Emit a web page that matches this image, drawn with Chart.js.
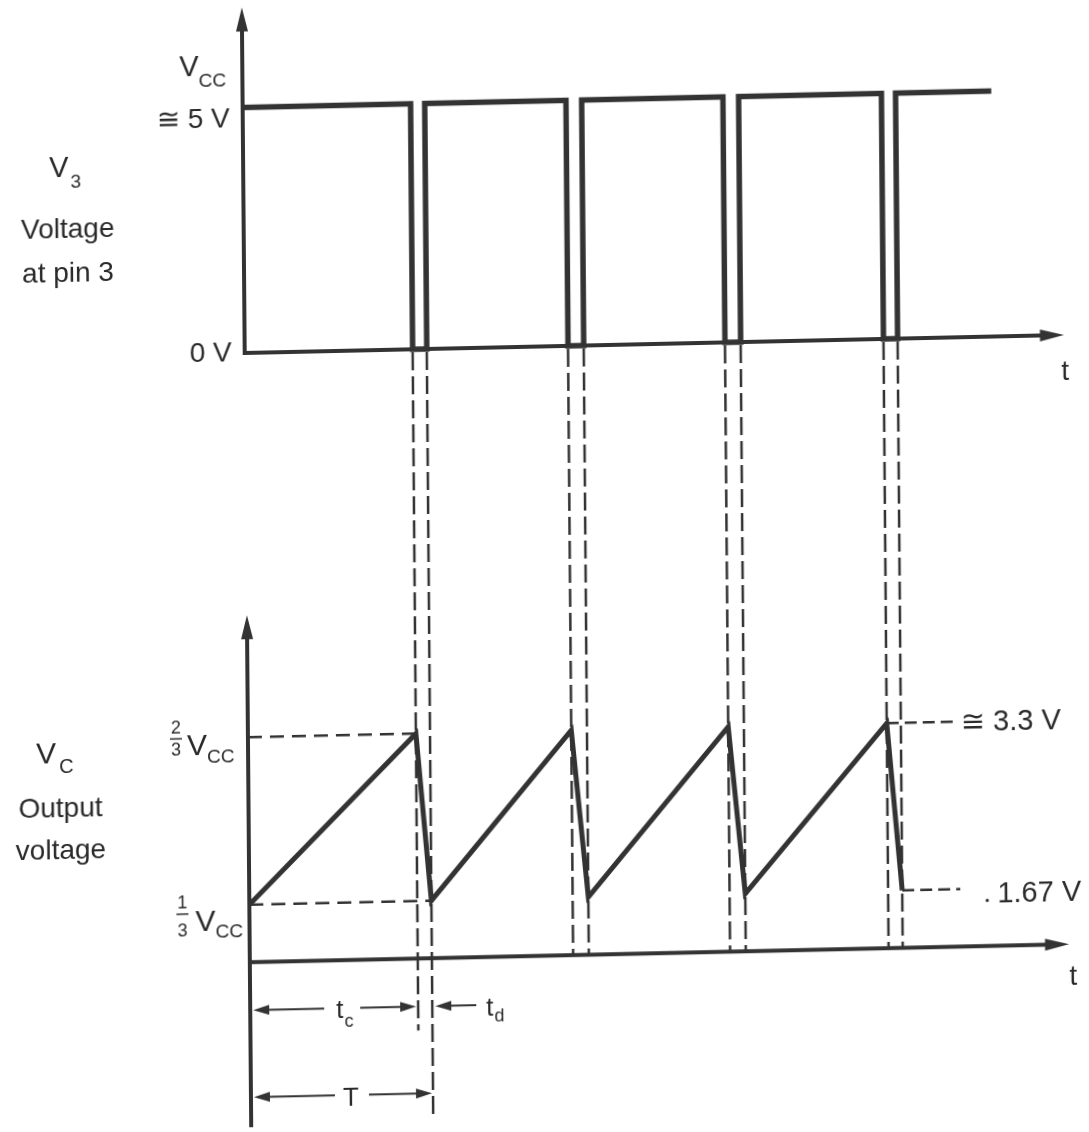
<!DOCTYPE html>
<html>
<head>
<meta charset="utf-8">
<title>555 astable timing waveforms</title>
<script src="https://cdn.jsdelivr.net/npm/chart.js@4.4.1/dist/chart.umd.min.js"></script>
<style>
  html, body { margin: 0; padding: 0; background: #fff; }
  #wrap { width: 1089px; height: 1132px; position: relative; overflow: hidden; background: #fff; }
  /* the printed figure sits slightly askew on the page */
  #c { display: block; transform-origin: 246px 500px; transform: matrix(1, -0.022, 0.0084, 1, 0, 0); }
</style>
</head>
<body>
<div id="wrap"><canvas id="c" width="1089" height="1132"></canvas></div>
<script>
// ---- 555 astable: pin-3 output and capacitor voltage ----
// time is in units of roughly one period
const OUT_HIGH = 5;                                   // V, pin 3 high (about Vcc)
const OUT_LOW = 0;                                    // V
const VC_UPPER = 3.33;                                // V, 2/3 Vcc threshold
const VC_LOWER = 1.67;                                // V, 1/3 Vcc trigger
const DISCHARGE_START = [1.07, 2.06, 3.06, 4.07];     // output falls, capacitor begins to discharge
const DISCHARGE_END   = [1.16, 2.16, 3.16, 4.16];     // output rises, charging resumes
const TRACE_END = 4.77;                               // last instant drawn for pin 3
const AXIS_END = 5.22;                                // arrow tip of both time axes
const VC_AXIS = 1.10;                                 // level where the Vc time axis is drawn
const UPPER_MARK_END = 4.50;                          // end of the "3.3 V" leader
const LOWER_MARK_END = 4.53;                          // end of the "1.67 V" leader

const TOP_TICK_LABELS = ['\u2245 5 V', '0 V'];
const VC_LEVEL_LABELS = ['\u2245 3.3 V', '1.67 V'];
const FRACTIONS = [['2', '3'], ['1', '3']];

const INK = '#333333';
const TEXT_INK = '#2a2a2a';
const FONT = '"Liberation Sans", Arial, Helvetica, sans-serif';

// pin-3 square wave
const pin3 = [{ x: 0, y: OUT_HIGH }];
DISCHARGE_START.forEach((t, i) => {
  pin3.push({ x: t, y: OUT_HIGH }, { x: t, y: OUT_LOW },
            { x: DISCHARGE_END[i], y: OUT_LOW }, { x: DISCHARGE_END[i], y: OUT_HIGH });
});
pin3.push({ x: TRACE_END, y: OUT_HIGH });

// capacitor sawtooth
const vc = [{ x: 0, y: VC_LOWER }];
DISCHARGE_START.forEach((t, i) => {
  vc.push({ x: t, y: VC_UPPER }, { x: DISCHARGE_END[i], y: VC_LOWER });
});

function seg(ctx, x1, y1, x2, y2) {
  ctx.beginPath(); ctx.moveTo(x1, y1); ctx.lineTo(x2, y2); ctx.stroke();
}
function head(ctx, tx, ty, dx, dy, len, half) {
  const bx = tx - dx * len, by = ty - dy * len;
  ctx.beginPath();
  ctx.moveTo(tx, ty);
  ctx.lineTo(bx - dy * half, by + dx * half);
  ctx.lineTo(bx + dy * half, by - dx * half);
  ctx.closePath(); ctx.fill();
}
function text(ctx, s, x, y, size, align) {
  ctx.font = size + 'px ' + FONT;
  ctx.textAlign = align || 'left';
  ctx.textBaseline = 'alphabetic';
  ctx.fillText(s, x, y);
}
// symbol with a lowered subscript
function subbed(ctx, main, sub, x, y, size, subSize, drop, gap) {
  ctx.font = size + 'px ' + FONT;
  ctx.textAlign = 'left'; ctx.textBaseline = 'alphabetic';
  ctx.fillText(main, x, y);
  const w = ctx.measureText(main).width;
  ctx.font = subSize + 'px ' + FONT;
  ctx.fillText(sub, x + w + (gap || 0), y + drop);
}
function fraction(ctx, num, den, cx, yNum, yBar, yDen) {
  ctx.font = '18px ' + FONT;
  ctx.textAlign = 'center'; ctx.textBaseline = 'alphabetic';
  ctx.fillText(num, cx, yNum);
  ctx.fillText(den, cx, yDen);
  ctx.lineWidth = 1.5; ctx.setLineDash([]);
  seg(ctx, cx - 6, yBar, cx + 6, yBar);
}

const frame = {
  id: 'frame',
  beforeDatasetsDraw(chart) {
    const { ctx, scales: { x, yTop, yBot } } = chart;
    const x0 = x.getPixelForValue(0);
    const y0 = yTop.getPixelForValue(OUT_LOW);
    const yB = yBot.getPixelForValue(VC_AXIS);
    ctx.save();
    ctx.strokeStyle = INK; ctx.fillStyle = INK; ctx.lineCap = 'butt';

    // projections from the pin-3 edges down to the Vc axis
    ctx.lineWidth = 2.5; ctx.setLineDash([18, 6]);
    DISCHARGE_START.forEach((t, i) => {
      const xa = x.getPixelForValue(t), xb = x.getPixelForValue(DISCHARGE_END[i]);
      seg(ctx, xa, y0 + 3, xa, i === 0 ? yB + 72 : yB);
      seg(ctx, xb, y0 + 3, xb, i === 0 ? yB + 160 : yB);
    });
    ctx.setLineDash([]);

    // axes
    const xEnd = x.getPixelForValue(AXIS_END);
    const tipTop = yTop.getPixelForValue(OUT_HIGH) - 100;
    const tipBot = yBot.getPixelForValue(VC_UPPER) - 122;
    ctx.lineWidth = 4;
    seg(ctx, x0, y0 + 2, x0, tipTop + 18);
    head(ctx, x0, tipTop, 0, -1, 24, 6);
    seg(ctx, x0 - 2, y0, xEnd - 18, y0);
    head(ctx, xEnd, y0, 1, 0, 24, 6);
    seg(ctx, x0, yB + 165, x0, tipBot + 18);
    head(ctx, x0, tipBot, 0, -1, 24, 6);
    seg(ctx, x0 - 2, yB, xEnd - 18, yB);
    head(ctx, xEnd, yB, 1, 0, 24, 6);
    ctx.restore();
  },
  afterDraw(chart) {
    const { ctx, scales: { x, yTop, yBot } } = chart;
    const x0 = x.getPixelForValue(0);
    const y5 = yTop.getPixelForValue(OUT_HIGH);
    const y0 = yTop.getPixelForValue(OUT_LOW);
    const yU = yBot.getPixelForValue(VC_UPPER);
    const yL = yBot.getPixelForValue(VC_LOWER);
    const yB = yBot.getPixelForValue(VC_AXIS);
    const xEnd = x.getPixelForValue(AXIS_END);
    ctx.save();
    ctx.fillStyle = TEXT_INK; ctx.strokeStyle = TEXT_INK;

    // left-hand captions
    subbed(ctx, 'V', '3', 52, 173, 29, 19, 11, 2);
    text(ctx, 'Voltage', 70, 234, 28, 'center');
    text(ctx, 'at pin 3', 70, 278, 28, 'center');
    subbed(ctx, 'V', 'C', 34, 759, 30, 20, 10, 3);
    text(ctx, 'Output', 58, 813, 28, 'center');
    text(ctx, 'voltage', 58, 855, 28, 'center');

    // pin-3 levels
    subbed(ctx, 'V', 'CC', x0 - 63, y5 - 32, 29, 19, 11, 0);
    text(ctx, TOP_TICK_LABELS[0], x0 - 13, y5 + 20, 28, 'right');
    text(ctx, TOP_TICK_LABELS[1], x0 - 13, y0 + 8, 28, 'right');

    // capacitor thresholds
    fraction(ctx, FRACTIONS[0][0], FRACTIONS[0][1], x0 - 72, yU - 5, yU, yU + 17);
    subbed(ctx, 'V', 'CC', x0 - 61, yU + 17, 30, 19, 8, 0);
    fraction(ctx, FRACTIONS[1][0], FRACTIONS[1][1], x0 - 67, yL + 2, yL + 8, yL + 30);
    subbed(ctx, 'V', 'CC', x0 - 54, yL + 25, 30, 19, 7, 0);
    text(ctx, VC_LEVEL_LABELS[0], 1059, yU + 10, 29, 'right');
    text(ctx, VC_LEVEL_LABELS[1], 1078, yL + 14, 29, 'right');
    ctx.beginPath(); ctx.arc(984, yL + 12, 1.6, 0, Math.PI * 2); ctx.fill();

    // time-axis names
    text(ctx, 't', xEnd - 3, y0 + 45, 28, 'left');
    text(ctx, 't', xEnd, yB + 41, 28, 'left');

    // interval dimensions under the first cycle
    const xc = x.getPixelForValue(DISCHARGE_START[0]);
    const xd = x.getPixelForValue(DISCHARGE_END[0]);
    ctx.strokeStyle = INK; ctx.fillStyle = INK;
    ctx.lineWidth = 2; ctx.setLineDash([]);
    const yc = yB + 48;
    seg(ctx, x0 + 14, yc, x0 + 74, yc);
    head(ctx, x0 + 3, yc, -1, 0, 16, 5);
    seg(ctx, x0 + 110, yc, xc - 14, yc);
    head(ctx, xc - 2, yc, 1, 0, 16, 5);
    seg(ctx, xd + 14, yc, xd + 44, yc);
    head(ctx, xd + 3, yc, -1, 0, 16, 5);
    const yT = yB + 135;
    seg(ctx, x0 + 14, yT, x0 + 84, yT);
    head(ctx, x0 + 3, yT, -1, 0, 16, 5);
    seg(ctx, x0 + 118, yT, xd - 14, yT);
    head(ctx, xd - 1, yT, 1, 0, 16, 5);
    ctx.fillStyle = TEXT_INK;
    subbed(ctx, 't', 'c', x0 + 86, yc + 10, 26, 18, 9, 1);
    subbed(ctx, 't', 'd', xd + 54, yc + 11, 26, 18, 6, 1);
    text(ctx, 'T', x0 + 100, yT + 11, 26, 'center');
    ctx.restore();
  }
};

new Chart(document.getElementById('c'), {
  type: 'line',
  data: {
    datasets: [
      { label: 'V3', data: pin3, yAxisID: 'yTop', borderColor: INK, borderWidth: 5.5,
        borderJoinStyle: 'miter', borderCapStyle: 'butt' },
      { label: 'Vc', data: vc, yAxisID: 'yBot', borderColor: INK, borderWidth: 5,
        borderJoinStyle: 'miter', borderCapStyle: 'butt' },
      { label: '2/3 Vcc', data: [{ x: 0, y: VC_UPPER }, { x: DISCHARGE_START[0], y: VC_UPPER }],
        yAxisID: 'yBot', borderColor: INK, borderWidth: 2.5, borderDash: [14, 8] },
      { label: '1/3 Vcc', data: [{ x: 0, y: VC_LOWER }, { x: DISCHARGE_END[0], y: VC_LOWER }],
        yAxisID: 'yBot', borderColor: INK, borderWidth: 2.5, borderDash: [14, 8] },
      { label: '3.3 V', data: [{ x: DISCHARGE_START[3], y: VC_UPPER }, { x: UPPER_MARK_END, y: VC_UPPER }],
        yAxisID: 'yBot', borderColor: INK, borderWidth: 2.5, borderDash: [12, 6] },
      { label: '1.67 V', data: [{ x: DISCHARGE_END[3], y: VC_LOWER }, { x: LOWER_MARK_END, y: VC_LOWER }],
        yAxisID: 'yBot', borderColor: INK, borderWidth: 2.5, borderDash: [12, 6] }
    ]
  },
  options: {
    responsive: false,
    animation: false,
    devicePixelRatio: 1,
    events: [],
    parsing: true,
    layout: { padding: { left: 246, right: 0, top: 0, bottom: 0 } },
    elements: { point: { radius: 0 }, line: { tension: 0, fill: false } },
    plugins: { legend: { display: false }, tooltip: { enabled: false }, title: { display: false } },
    scales: {
      x: { type: 'linear', display: false, min: 0, max: 5.37 },
      yTop: { type: 'linear', display: false, min: -15.866, max: 7.189 },
      yBot: { type: 'linear', display: false, min: -0.585, max: 10.645 }
    }
  },
  plugins: [frame]
});
</script>
</body>
</html>
